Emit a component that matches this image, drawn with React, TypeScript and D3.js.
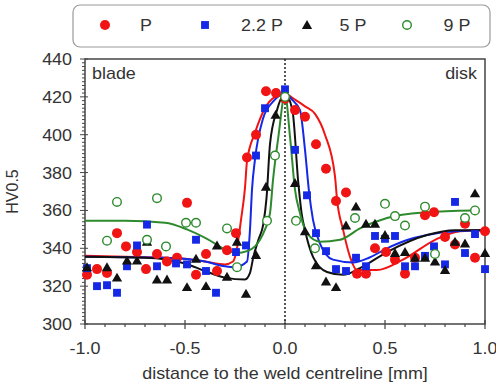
import React from 'react';
import * as d3 from 'd3';

// measured points (distance [mm], HV0.5)
const pX = [-0.99, -0.94, -0.89, -0.84, -0.795, -0.74, -0.695, -0.64, -0.59, -0.54, -0.49, -0.445, -0.395, -0.34, -0.29, -0.245, -0.19, -0.145, -0.095, -0.045, 0.0, 0.05, 0.1, 0.155, 0.205, 0.255, 0.305, 0.36, 0.405, 0.45, 0.505, 0.55, 0.6, 0.65, 0.7, 0.745, 0.8, 0.85, 0.9, 0.95, 1.0];
const pY = [326, 329, 327, 348, 341, 338, 329, 337, 333, 335, 364, 326, 337, 328, 339, 348, 388, 400, 423, 422, 419, 413, 409.5, 395, 382, 365, 369.5, 326.5, 326.5, 340, 338, 334, 326.5, 335, 357.5, 359, 346, 342, 353, 335, 349];

const p22X = [-0.99, -0.94, -0.89, -0.84, -0.79, -0.74, -0.69, -0.64, -0.545, -0.49, -0.445, -0.395, -0.345, -0.245, -0.195, -0.145, -0.1, 0.0, 0.05, 0.11, 0.155, 0.205, 0.255, 0.305, 0.355, 0.405, 0.45, 0.5, 0.55, 0.6, 0.65, 0.7, 0.745, 0.8, 0.85, 0.9, 0.95, 1.0];
const p22Y = [329.5, 320, 320.5, 316.5, 330.5, 341.5, 352.5, 330.5, 332, 331.5, 344.5, 328, 316.5, 338, 341.5, 389, 414, 424, 392, 368, 348, 338.5, 329, 328, 335, 330.5, 346.5, 345, 346.5, 330.5, 330.5, 336, 341, 331.5, 364.5, 337.5, 347.5, 329];

const p5X = [-0.99, -0.89, -0.84, -0.79, -0.74, -0.69, -0.64, -0.59, -0.49, -0.445, -0.395, -0.34, -0.29, -0.24, -0.195, -0.145, -0.095, -0.047, 0.0, 0.05, 0.1, 0.155, 0.205, 0.255, 0.305, 0.355, 0.405, 0.45, 0.5, 0.55, 0.6, 0.65, 0.7, 0.75, 0.8, 0.85, 0.9, 0.95, 1.0];
const p5Y = [330, 330, 324.5, 333.5, 333.5, 343.5, 323.5, 323.5, 319.5, 334.5, 320, 341.5, 325, 343.5, 316, 336.5, 372.5, 410.5, 420, 374.5, 349, 331, 322.5, 319.5, 352, 362, 353, 353, 347, 337.5, 338, 335, 335, 333, 328.5, 343.5, 342.5, 369, 337.5];

const p9X = [-0.89, -0.84, -0.69, -0.64, -0.595, -0.495, -0.445, -0.29, -0.24, -0.09, -0.05, 0.0, 0.055, 0.15, 0.35, 0.5, 0.55, 0.6, 0.7, 0.75, 0.9, 0.95];
const p9Y = [344, 364.5, 344.5, 366.5, 341, 353.5, 353.5, 350.5, 330, 354.5, 389, 420, 354.5, 340, 356, 363.5, 357, 352, 362, 337, 356, 360];

// fitted curves
const fitPX = [-1, -0.8, -0.6, -0.5, -0.4, -0.3, -0.26, -0.24, -0.22, -0.2, -0.19, -0.15, -0.1, -0.05, 0, 0.05, 0.1, 0.15, 0.2, 0.25, 0.26, 0.29, 0.325, 0.36, 0.46, 0.59, 0.76, 0.875, 1.0];
const fitPY = [336, 335.5, 335, 334.5, 333, 331.5, 333, 340, 355, 372, 386, 401, 414, 420, 421.5, 418.5, 415, 411, 400, 378, 366, 350, 335.5, 328.5, 328.5, 334, 345, 349, 349.7];

const fit22X = [-1, -0.6, -0.4, -0.3, -0.25, -0.19, -0.175, -0.165, -0.15, -0.11, -0.06, 0, 0.04, 0.075, 0.1, 0.12, 0.14, 0.175, 0.24, 0.34, 0.42, 0.51, 0.6, 0.71, 0.85, 1.0];
const fit22Y = [335.5, 335, 333, 330.5, 330, 333, 350, 371, 387, 408.5, 417.5, 421.5, 418, 413, 392, 370, 355, 342.5, 334, 332.5, 335, 340, 344, 347, 349, 349.5];

const fit5X = [-1, -0.7, -0.5, -0.4, -0.3, -0.2, -0.175, -0.158, -0.133, -0.108, -0.092, -0.075, -0.04, 0, 0.037, 0.067, 0.083, 0.1, 0.14, 0.21, 0.29, 0.375, 0.51, 0.71, 0.85, 1.0];
const fit5Y = [335.5, 335, 332, 328, 324.5, 323.5, 327, 335.5, 344.5, 353, 367, 395, 413, 421.5, 413, 374, 358.5, 349.5, 335.5, 327.5, 326, 329.5, 338, 347, 349.5, 349.5];

const fit9X = [-1, -0.8, -0.6, -0.49, -0.39, -0.29, -0.24, -0.19, -0.15, -0.125, -0.1, -0.075, -0.06, -0.033, 0, 0.025, 0.05, 0.075, 0.11, 0.175, 0.275, 0.375, 0.51, 0.71, 0.94];
const fit9Y = [354.5, 354.5, 353.5, 350, 345, 339, 337.5, 338.5, 341, 344.5, 350, 358.5, 376, 399, 421.5, 399, 371, 358.5, 348, 343.5, 344.5, 350.5, 356, 359, 360];

const legendLabels = ['P', '2.2 P', '5 P', '9 P'];
const xTicks = [-1.0, -0.5, 0.0, 0.5, 1.0];
const yTicks = [300, 320, 340, 360, 380, 400, 420, 440];

const RED = '#f01414';
const BLUE = '#1428e6';
const BLACK = '#111111';
const GREEN = '#2d8a2d';
const AXIS = '#444444';
const TXT = '#333333';
const FONT = "Arial, 'Liberation Sans', sans-serif";

const x = d3.scaleLinear().domain([-1, 1]).range([85, 485]);
const y = d3.scaleLinear().domain([300, 440]).range([324, 59]);

const zip = (a: number[], b: number[]) => a.map((v, i) => [v, b[i]] as [number, number]);

const line = d3.line<[number, number]>()
  .x(d => x(d[0]))
  .y(d => y(d[1]))
  .curve(d3.curveMonotoneX);

const tri = d3.symbol(d3.symbolTriangle, 46)() as string;
const sq = d3.symbol(d3.symbolSquare, 62)() as string;

// slightly stretched text, the figure is wider than its font
const T = ({ x, y, anchor = 'middle', children, rotate = false }: any) => (
  <text
    transform={rotate ? `translate(${x},${y}) rotate(-90)` : `translate(${x},${y}) scale(1.12,1)`}
    textAnchor={anchor}
    fontSize={16}
    fontFamily={FONT}
    fill={TXT}
  >
    {children}
  </text>
);

const Marker = ({ kind, cx, cy }: { kind: number; cx: number; cy: number }) => {
  if (kind === 0) return <circle cx={cx} cy={cy} r={5} fill={RED} />;
  if (kind === 1) return <path d={sq} transform={`translate(${cx},${cy})`} fill={BLUE} />;
  if (kind === 2) return <path d={tri} transform={`translate(${cx},${cy + 1})`} fill={BLACK} />;
  return <circle cx={cx} cy={cy} r={4.3} fill="white" stroke={GREEN} strokeWidth={1.4} />;
};

export default function App() {
  const fits = [
    { pts: zip(fitPX, fitPY), c: RED },
    { pts: zip(fit22X, fit22Y), c: BLUE },
    { pts: zip(fit5X, fit5Y), c: BLACK },
    { pts: zip(fit9X, fit9Y), c: GREEN },
  ];
  const series = [zip(pX, pY), zip(p22X, p22Y), zip(p5X, p5Y), zip(p9X, p9Y)];

  const minorX = d3.range(-10, 11).map(i => i / 10);
  const minorY = d3.range(300, 441, 2);
  const [x0, x1] = x.range();
  const [yb, yt] = y.range();

  const legendX = [105, 205, 307, 407];
  const legendTx = [146, 262, 353, 457];

  return (
    <svg width={496} height={385} style={{ position: 'absolute', left: 0, top: 0, background: 'white' }}>
      {/* legend */}
      <rect x={73} y={5} width={417} height={42} rx={7} fill="white" stroke="#9a9a9a" strokeWidth={1.2} />
      {legendLabels.map((l, i) => (
        <g key={l}>
          <Marker kind={i} cx={legendX[i]} cy={25} />
          <T x={legendTx[i]} y={31}>{l}</T>
        </g>
      ))}

      {/* frame */}
      <rect x={x0} y={yt} width={x1 - x0} height={yb - yt} fill="none" stroke={AXIS} strokeWidth={1.5} />

      {/* x ticks */}
      {minorX.map(t => {
        const major = Math.abs(t * 2 - Math.round(t * 2)) < 1e-6;
        return <line key={'xt' + t} x1={x(t)} x2={x(t)} y1={yb - (major ? 4 : 0)} y2={yb + (major ? 5 : 3)} stroke={AXIS} strokeWidth={1.2} />;
      })}
      {xTicks.map(t => (
        <T key={'xl' + t} x={x(t)} y={354}>{t.toFixed(1)}</T>
      ))}

      {/* y ticks */}
      {minorY.map(t => {
        const major = t % 20 === 0;
        return <line key={'yt' + t} x1={x0 - (major ? 5 : 3)} x2={x0 + (major ? 3 : 0)} y1={y(t)} y2={y(t)} stroke={AXIS} strokeWidth={1} />;
      })}
      {yTicks.map(t => (
        <T key={'yl' + t} x={72} y={y(t) + 6} anchor="end">{t}</T>
      ))}

      {/* centreline */}
      <line x1={x(0)} x2={x(0)} y1={yt} y2={yb} stroke="#222" strokeWidth={1.5} strokeDasharray="2,2" />

      {/* fits */}
      {fits.map((f, i) => (
        <path key={'f' + i} d={line(f.pts) as string} fill="none" stroke={f.c} strokeWidth={2} />
      ))}

      {/* points */}
      {series.map((s, k) => (
        <g key={'s' + k}>
          {s.map((d, i) => <Marker key={i} kind={k} cx={x(d[0])} cy={y(d[1])} />)}
        </g>
      ))}

      <T x={92} y={79} anchor="start">blade</T>
      <T x={477} y={79} anchor="end">disk</T>

      <T x={18} y={(yt + yb) / 2} rotate>HV0.5</T>
      <T x={x(0)} y={379}>distance to the weld centreline [mm]</T>
    </svg>
  );
}
